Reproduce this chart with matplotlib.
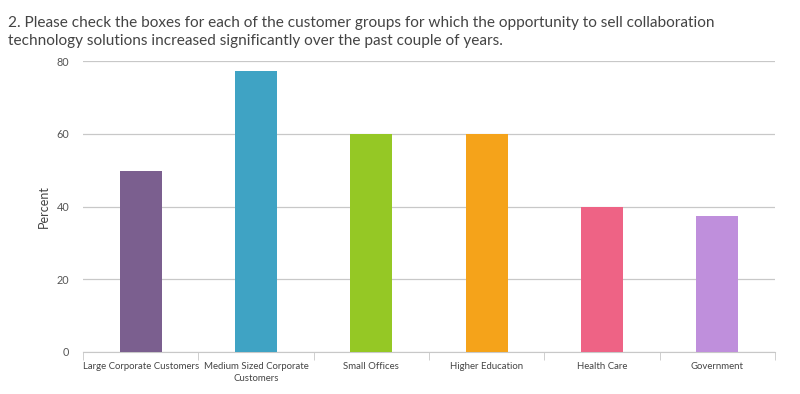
import matplotlib.pyplot as plt
import numpy as np

categories = ["Large Corporate Customers", "Medium Sized Corporate\nCustomers",
              "Small Offices", "Higher Education", "Health Care", "Government"]
values = [49.7, 77.2, 60.0, 60.0, 39.8, 37.4]
colors = ["#7B5F8F", "#3FA3C4", "#95C825", "#F5A31A", "#EE6385", "#BF8FDC"]
yticks = [0, 20, 40, 60, 80]

plt.rcParams['font.family'] = ['Lato', 'DejaVu Sans']

fig = plt.figure(figsize=(8, 3.94), dpi=100)
ax = fig.add_axes([83 / 800, 1 - 352 / 394, 692 / 800, 291 / 394])

x = np.arange(len(categories))
ax.bar(x, values, width=0.365, color=colors, zorder=3)

ax.set_xlim(-0.5, len(categories) - 0.5)
ax.set_ylim(0, 80)
ax.set_yticks(yticks)
ax.grid(axis="y", color="#C8C8C8", linewidth=0.9, zorder=0)

for side in ["top", "right", "left"]:
    ax.spines[side].set_visible(False)
ax.spines["bottom"].set_color("#C8C8C8")

ax.set_xticks(x)
ax.set_xticklabels(categories, fontsize=6.9, color="#444444", linespacing=1.4)
ax.tick_params(axis="x", length=0, pad=7)
ax.set_xticks(np.arange(-0.5, len(categories)), minor=True)
ax.tick_params(axis="x", which="minor", length=6, color="#C8C8C8")
ax.tick_params(axis="y", length=0, labelsize=7.8, labelcolor="#555555", pad=10)
ax.set_ylabel("Percent", fontsize=9, color="#444444", labelpad=5)

fig.text(8 / 800, 1 - 32 / 394,
         "2. Please check the boxes for each of the customer groups for which the opportunity to sell collaboration\n"
         "technology solutions increased significantly over the past couple of years.",
         fontsize=11.1, color="#444444", va="center", linespacing=1.35)

fig.savefig("out.png", dpi=100)
